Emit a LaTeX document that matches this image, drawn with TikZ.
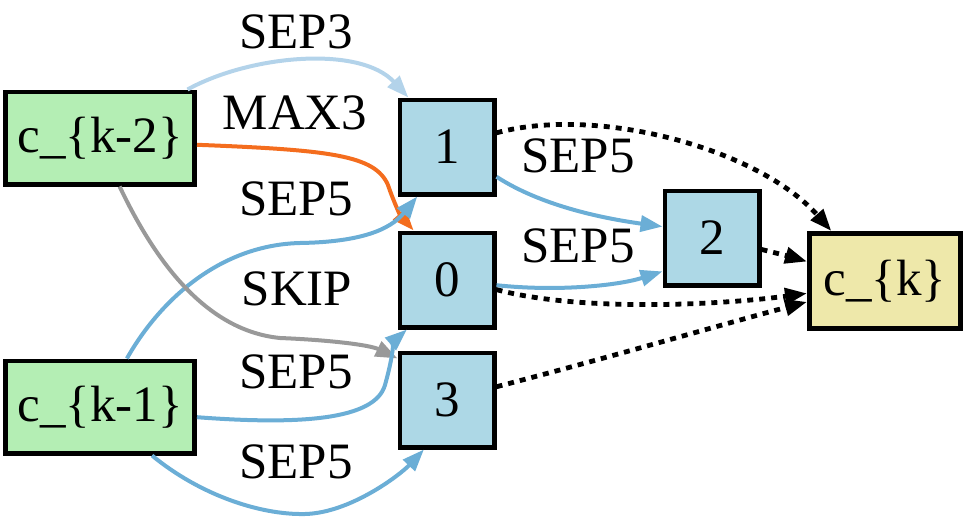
\documentclass[tikz,border=0pt]{standalone}
\usepackage{fontspec}
\setmainfont{Liberation Serif}
\newfontfamily\labelfont{Liberation Serif}
\usepackage{xcolor}
\usetikzlibrary{arrows.meta}
\definecolor{InGreen}{HTML}{B4EEB4}
\definecolor{MidBlue}{HTML}{ADD8E6}
\definecolor{OutGold}{HTML}{EEE8AA}
\definecolor{SepLight}{HTML}{B3D3EA}
\definecolor{SepBlue}{HTML}{6BAED6}
\definecolor{MaxOrange}{HTML}{F46D1E}
\definecolor{SkipGray}{HTML}{999999}

\begin{document}
\begin{tikzpicture}[
        x=0.5pt, y=-0.5pt,
        every node/.style={font=\labelfont\fontsize{25.5}{30}\selectfont},
        CIN/.style={draw=black, fill=InGreen, line width=2.3pt, inner sep=0pt,
            minimum width=94.7pt, minimum height=46.2pt},
        OP/.style={draw=black, fill=MidBlue, line width=2.3pt, inner sep=0pt,
            minimum size=47.2pt},
        COUT/.style={draw=black, fill=OutGold, line width=2.3pt, inner sep=0pt,
            minimum width=75.7pt, minimum height=47.7pt},
        tip/.style={-{Triangle[length=11pt,width=8pt]}, line width=2pt},
        sepa/.style={tip, SepLight},
        sepb/.style={tip, SepBlue},
        maxa/.style={tip, MaxOrange},
        skipa/.style={tip, SkipGray},
        outa/.style={tip, black, line width=2.4pt, dash pattern=on 3pt off 3pt},
      ]
      \useasboundingbox (0,0) rectangle (965,520);

      % Main nodes
      \node[CIN]  (k2) at (100,138) {c\_\{k-2\}};
      \node[CIN]  (k1) at (100,407) {c\_\{k-1\}};
      \node[OP]   (n1) at (447,147) {1};
      \node[OP]   (n0) at (447,280) {0};
      \node[OP]   (n3) at (447,400) {3};
      \node[OP]   (n2) at (712,238) {2};
      \node[COUT] (ck) at (885,281) {c\_\{k\}};

      % Arrows
      \draw[sepa] (k2.29.5) .. controls (250,55) and (360,45) .. (n1.128);
      \draw[maxa] (k2.-4) .. controls (330,150) and (375,155) .. (388,185)
                  .. controls (393,200) and (400,215) .. (n0.124);
      \draw[sepb] (k1.61) .. controls (160,300) and (220,245) .. (300,243)
                  .. controls (360,242) and (390,230) .. (n1.-121);
      \draw[skipa] (k2.-68) .. controls (150,250) and (200,330) .. (280,338)
                  .. controls (330,340) and (370,345) .. (n3.140);
      \draw[sepb] (k1.-6) .. controls (300,425) and (375,420) .. (385,385)
                  .. controls (392,360) and (395,340) .. (n0.-129);
      \draw[sepb] (k1.-43) .. controls (200,495) and (260,515) .. (305,514)
                  .. controls (350,513) and (400,475) .. (n3.-115);
      \draw[sepb] (n1.-31) .. controls (540,205) and (600,218) .. (n2.167);
      \draw[sepb] (n0.-6) .. controls (560,292) and (620,285) .. (n2.-146);

      \draw[outa] (n1.16) .. controls (600,105) and (760,150) .. (ck.137);
      \draw[outa] (n2.-13) .. controls (780,254) and (795,258) .. (ck.166);
      \draw[outa] (n0.-11) .. controls (580,312) and (720,305) .. (ck.-171);
      \draw[outa] (n3.15) .. controls (600,360) and (720,325) .. (ck.-165);

      % Labels
      \node (lsep3)  at (296,32)  {SEP3};
      \node (lmax3)  at (295,113) {MAX3};
      \node (lsepa)  at (296,199) {SEP5};
      \node (lskip)  at (297,289) {SKIP};
      \node (lsepb)  at (296,372) {SEP5};
      \node (lsepc)  at (296,462) {SEP5};
      \node (lsepd)  at (578,156) {SEP5};
      \node (lsepe)  at (578,246) {SEP5};

    \end{tikzpicture}
\end{document}
